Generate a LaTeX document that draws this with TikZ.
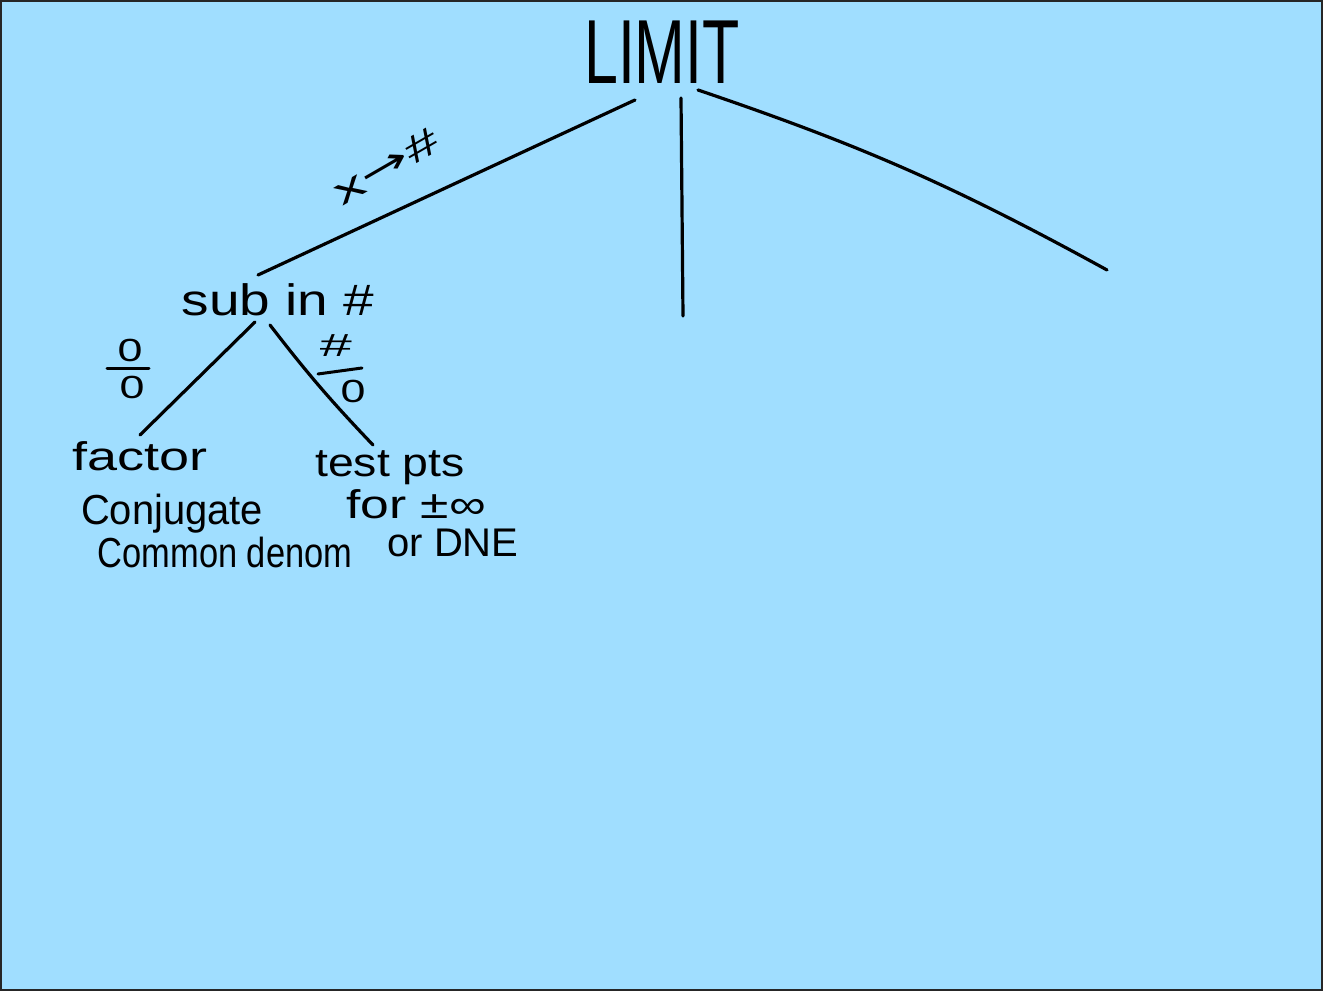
\documentclass[tikz,border=0pt]{standalone}
\usepackage{fontspec}
\setmainfont{Liberation Sans}
\newfontfamily\djv{DejaVu Sans}
\usepackage{graphicx}
\usetikzlibrary{calc}
\definecolor{bg}{RGB}{160,222,255}
\begin{document}
\begin{tikzpicture}[x=1pt,y=1pt,
  ink/.style={line width=3.2pt, line cap=round, black},
  hand/.style={inner sep=0pt, text=black, font=\fontsize{40}{44}\selectfont},
  small/.style={inner sep=0pt, text=black, font=\fontsize{32}{34}\selectfont},
  bar/.style={line width=3pt, line cap=round, black},
]
\useasboundingbox (0,0) rectangle (1323,991);
\fill[bg] (0,0) rectangle (1323,991);
\draw[black!85, line width=1.6pt] (0.8,0.8) rectangle (1322.2,990.2);

% top node
\node[hand, font=\fontsize{70}{80}\selectfont] (limit) at (662,939) {\scalebox{0.87}[1.3]{LIMIT}};

% second level
\node[hand, font=\fontsize{44}{48}\selectfont] (sub) at (278,691) {\scalebox{1.25}[1]{sub in \#}};
\coordinate (mid) at (683,675);
\coordinate (right) at (1107,721);

% edge label
\node[hand, font=\fontsize{38}{42}\selectfont, rotate=30] (xlab) at (386,825) {\scalebox{1.6}[1]{x{\djv→}\#}};

% leaves
\node[hand] (factor) at (140,535) {\scalebox{1.35}[1]{factor}};
\node[hand, font=\fontsize{42}{46}\selectfont] (conj) at (172,477) {\scalebox{0.95}[1]{Conjugate}};
\node[hand, font=\fontsize{42}{46}\selectfont] (common) at (225,439) {\scalebox{0.82}[1]{Common denom}};
\node[hand] (test) at (390,523) {\scalebox{1.16}[1]{test pts}};
\node[hand] (forinf) at (416,487) {\scalebox{1.29}[1]{for ±∞}};
\node[hand] (dne) at (453,448) {\scalebox{1.0}[1]{or DNE}};

% fraction labels
\node[small] (za) at (130,641) {\scalebox{1.4}[1]{0}};
\node[small] (zb) at (132,604) {\scalebox{1.4}[1]{0}};
\draw[bar] (107,622) -- (149,622);
\node[small] (ha) at (336,645) {\scalebox{1.8}[1]{\#}};
\node[small] (hb) at (353,600) {\scalebox{1.4}[1]{0}};
\draw[bar] (318,617) -- (362,623);

% connectors
\draw[ink] ($(limit.center)+(-27,-48)$) -- ($(sub.center)+(-20,25)$);
\draw[ink] ($(limit.center)+(19,-46)$) -- (mid);
\draw[ink] ($(limit.center)+(36,-38)$) to[bend left=5] (right);
\draw[ink] ($(sub.center)+(-23,-22)$) -- ($(factor.center)+(0,21)$);
\draw[ink] ($(sub.center)+(-8,-25)$) to[bend right=3] ($(test.center)+(-17,23)$);
\end{tikzpicture}
\end{document}
